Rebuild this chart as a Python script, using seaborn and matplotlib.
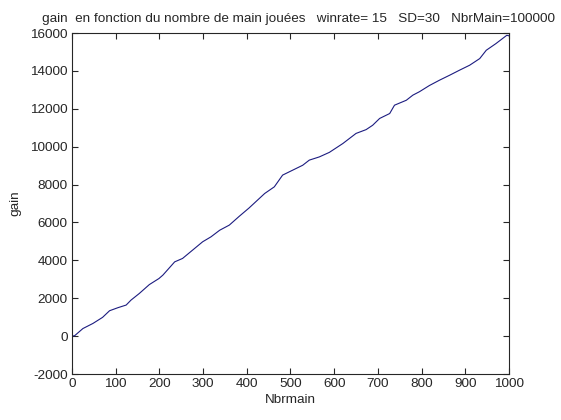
import numpy as np
import pandas as pd
import matplotlib
matplotlib.use("Agg")
import matplotlib.pyplot as plt
import seaborn as sns

# values
nbr_main = [0, 6, 25, 48, 70, 86, 105, 124, 135, 154, 177, 199, 208, 235, 253, 276,
            299, 318, 338, 360, 383, 405, 441, 463, 482, 505, 528, 543, 566, 589,
            620, 650, 673, 688, 704, 727, 738, 765, 780, 795, 818, 841, 864, 887,
            910, 933, 948, 970, 995, 1000]
gain = [0, 20, 400, 670, 990, 1340, 1500, 1640, 1900, 2250, 2720, 3040, 3220, 3920,
        4100, 4540, 4980, 5240, 5590, 5860, 6330, 6760, 7530, 7880, 8500, 8760,
        9020, 9290, 9460, 9700, 10170, 10700, 10900, 11130, 11490, 11750, 12190,
        12450, 12720, 12900, 13230, 13510, 13770, 14040, 14300, 14650, 15090, 15440,
        15880, 15850]

df = pd.DataFrame({"Nbrmain": nbr_main, "gain": gain})

sns.set_style("ticks")
plt.rcParams["font.family"] = ["Liberation Sans", "DejaVu Sans"]
plt.rcParams["axes.unicode_minus"] = False

fig = plt.figure(figsize=(5.61, 4.2), dpi=100)
ax = fig.add_axes([0.1283, 0.1095, 0.779, 0.8119])
sns.lineplot(data=df, x="Nbrmain", y="gain", ax=ax, color="#1c1c80", linewidth=0.8)

ax.set_xlim(0, 1000)
ax.set_ylim(-2000, 16000)
ax.set_xticks(np.arange(0, 1001, 100))
ax.set_yticks(np.arange(-2000, 16001, 2000))
ax.tick_params(direction="in", top=True, right=True, length=4, width=0.8, labelsize=9.7, pad=3)
for s in ax.spines.values():
    s.set_visible(True)
    s.set_linewidth(0.8)
ax.set_xlabel("Nbrmain", fontsize=9.7, labelpad=3)
ax.set_ylabel("gain", fontsize=9.7, labelpad=6)
ax.set_title("gain  en fonction du nombre de main jouées   winrate= 15   SD=30   NbrMain=100000",
             fontsize=9.7, pad=8, x=0.518)

fig.savefig("out.png", dpi=100)
